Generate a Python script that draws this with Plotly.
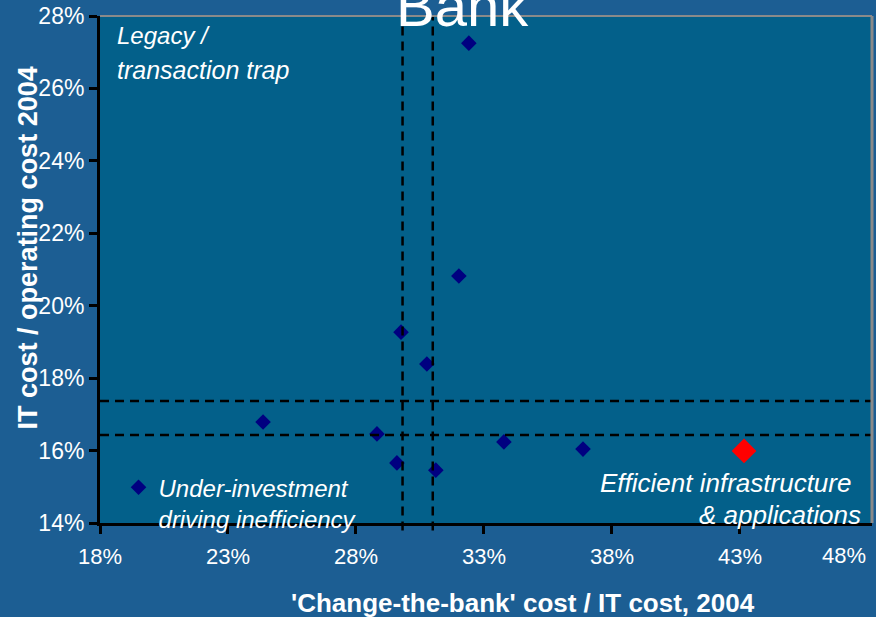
import plotly.graph_objects as go

FONT = "Liberation Sans, Arial, sans-serif"
PAPER = "#1c5e93"
PLOT = "#03608a"
NAVY = "#000080"
RED = "#ff0000"

# banks: 'change-the-bank' share of IT cost vs IT cost / operating cost (%)
bank_x = [32.41, 32.02, 29.76, 30.77, 24.37, 28.82, 29.60, 31.12, 33.78, 36.87]
bank_y = [27.25, 20.82, 19.27, 18.39, 16.79, 16.46, 15.66, 15.46, 16.24, 16.04]
best_x = [43.16]
best_y = [15.99]

# dashed reference bands
band_x = [29.82, 31.0]
band_y = [17.37, 16.43]

x_ticks = [18, 23, 28, 33, 38, 43]
y_ticks = [14, 16, 18, 20, 22, 24, 26, 28]

fig = go.Figure()
fig.add_trace(go.Scatter(
    x=bank_x, y=bank_y, mode="markers",
    marker=dict(symbol="diamond", size=12, color=NAVY),
    name="Under-investment<br>driving inefficiency",
))
fig.add_trace(go.Scatter(
    x=best_x, y=best_y, mode="markers",
    marker=dict(symbol="diamond", size=19, color=RED),
    showlegend=False,
))

for v in band_x:
    fig.add_shape(type="line", xref="x", yref="paper", x0=v, x1=v, y0=-0.015, y1=1,
                  line=dict(color="black", width=2.5, dash="9px,6px"))
for v in band_y:
    fig.add_shape(type="line", xref="paper", yref="y", x0=0, x1=1, y0=v, y1=v,
                  line=dict(color="black", width=2.5, dash="9px,6px"))

# top/right thin border
fig.add_shape(type="line", xref="paper", yref="paper", x0=0, x1=1, y0=1, y1=1,
              line=dict(color="#8a8a8a", width=2))
fig.add_shape(type="line", xref="paper", yref="paper", x0=1, x1=1, y0=0, y1=1,
              line=dict(color="#8a8a8a", width=3))

it = dict(family=FONT, color="white", size=25, style="italic")
bold = dict(family=FONT, color="white", size=26)
anns = [
    dict(text="Bank", x=0.47, y=1, xref="paper", yref="paper", xanchor="center",
         yanchor="bottom", yshift=-24, font=dict(family=FONT, color="white", size=58)),
    dict(text="Legacy /", x=0.02, y=0.962, xref="paper", yref="paper", xanchor="left",
         yanchor="middle", font=dict(it, size=24)),
    dict(text="transaction trap", x=0.02, y=0.893, xref="paper", yref="paper",
         xanchor="left", yanchor="middle", font=it),
    dict(text="Efficient infrastructure", x=0.975, y=0.079, xref="paper", yref="paper",
         xanchor="right", yanchor="middle", font=dict(it, size=26)),
    dict(text="& applications", x=0.988, y=0.016, xref="paper", yref="paper",
         xanchor="right", yanchor="middle", font=dict(it, size=26)),
    dict(text="48%", x=48, y=0, xref="x", yref="paper", xanchor="right", yanchor="top",
         yshift=-18, font=dict(family=FONT, color="white", size=22)),
    # axis titles (placed off-centre like the original slide)
    dict(text="<b>'Change-the-bank' cost / IT cost, 2004</b>", x=0.548, y=-0.158,
         xref="paper", yref="paper", xanchor="center", yanchor="middle", font=bold),
    dict(text="<b>IT cost / operating cost 2004</b>", x=-0.093, y=0.542, textangle=-90,
         xref="paper", yref="paper", xanchor="center", yanchor="middle",
         font=dict(bold, size=27)),
]
for a in anns:
    a["showarrow"] = False

fig.update_layout(
    width=876, height=617,
    paper_bgcolor=PAPER, plot_bgcolor=PLOT,
    font=dict(family=FONT, color="white", size=22),
    margin=dict(l=100, r=4, t=16, b=94),
    showlegend=True,
    legend=dict(x=0.024, y=0.114, xanchor="left", yanchor="top", valign="top",
                bgcolor="rgba(0,0,0,0)", itemwidth=30, tracegroupgap=0,
                font=dict(family=FONT, color="white", size=24, style="italic")),
    xaxis=dict(range=[18, 48.16], tickvals=x_ticks, ticktext=[f"{t}%" for t in x_ticks],
               showgrid=False, zeroline=False, showline=True, linecolor="black", linewidth=3,
               ticks="outside", ticklen=8, tickwidth=3, tickcolor="black", automargin=False,
               ticklabelstandoff=4, tickfont=dict(size=22), ticklabeloverflow="allow"),
    yaxis=dict(range=[14, 28], tickvals=y_ticks, ticktext=[f"{t}%" for t in y_ticks],
               showgrid=False, zeroline=False, showline=True, linecolor="black", linewidth=3,
               ticks="outside", ticklen=8, tickwidth=3, tickcolor="black", automargin=False,
               tickfont=dict(size=23), ticklabeloverflow="allow"),
    annotations=anns,
)

# drop the page's default body margin so the slide fills the window
fig.write_html("out.html", config={"displayModeBar": False},
               post_script="document.body.style.margin='0';")
